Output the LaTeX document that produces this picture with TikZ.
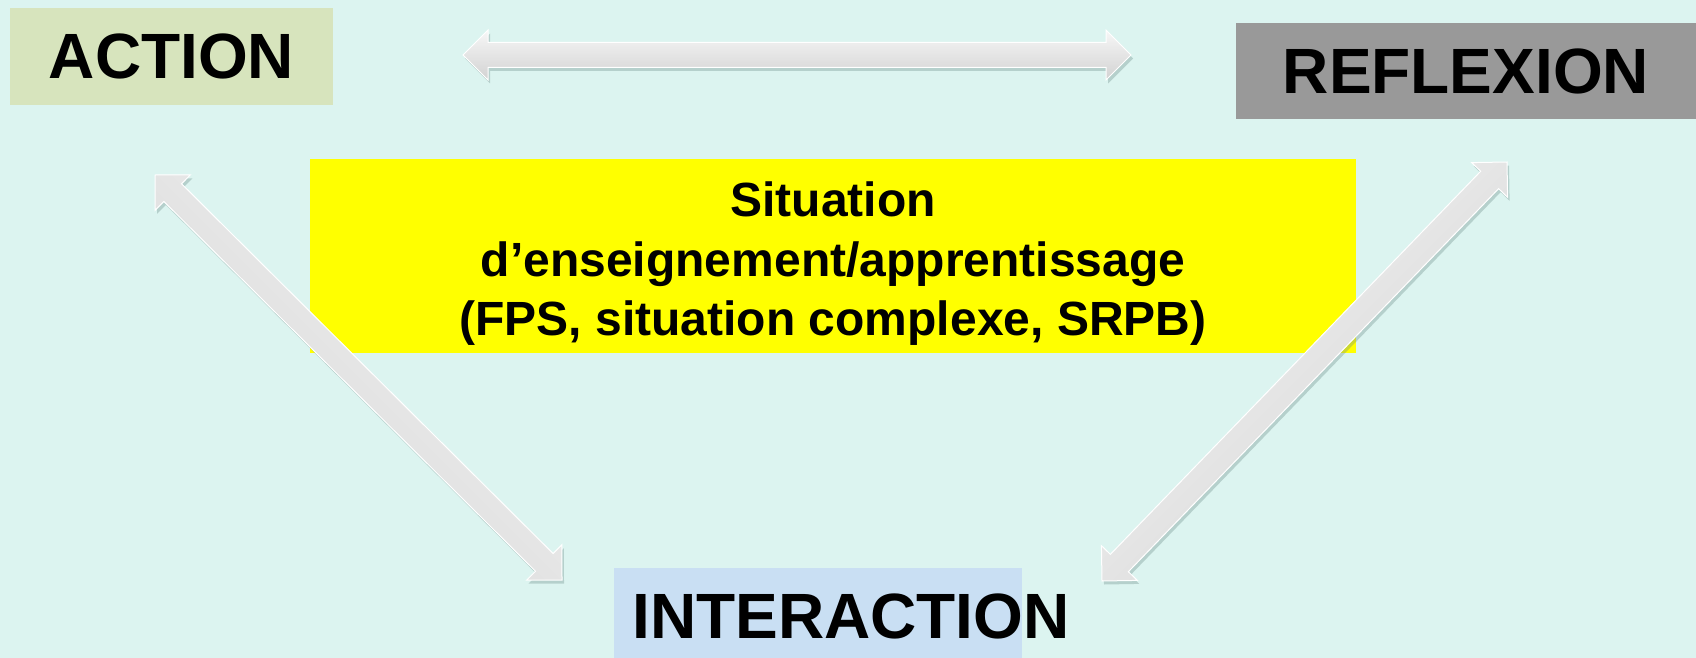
\documentclass[tikz,border=0pt]{standalone}
\usepackage{fontspec}
\setmainfont{Liberation Sans}
\usetikzlibrary{calc,shadows}
\definecolor{bgc}{HTML}{DCF4F0}
\definecolor{actc}{HTML}{D7E4BD}
\definecolor{refc}{HTML}{999999}
\definecolor{intc}{HTML}{C9DFF3}
\definecolor{arrlight}{HTML}{F7F7F7}
\definecolor{arrdark}{HTML}{D2D2D2}
\definecolor{shadc}{HTML}{6F8F8B}
\definecolor{sityellow}{RGB}{255,255,0}
\tikzset{
  lbl/.style={font=\fontsize{64}{77}\selectfont\bfseries, inner sep=0pt, text=black},
  sittext/.style={font=\fontsize{48}{59.5}\selectfont\bfseries, align=center, inner sep=0pt},
  fatarrowstyle/.style={top color=arrlight, bottom color=arrdark, draw=white, line width=1pt,
    line join=miter,
    drop shadow={shadow xshift=2pt, shadow yshift=-3.5pt, opacity=.35, fill=shadc}},
}
\newcommand\fatarrow[3]{%
  \coordinate (#1-b) at ($(#1)!25pt!(#2)$);
  \coordinate (#2-b) at ($(#2)!25pt!(#1)$);
  \path[fatarrowstyle, shading angle=#3] (#1) -- ($(#1-b)!25pt!90:(#2)$) -- ($(#1-b)!12.5pt!90:(#2)$)
    -- ($(#2-b)!12.5pt!-90:(#1)$) -- ($(#2-b)!25pt!-90:(#1)$) -- (#2)
    -- ($(#2-b)!25pt!90:(#1)$) -- ($(#2-b)!12.5pt!90:(#1)$)
    -- ($(#1-b)!12.5pt!-90:(#2)$) -- ($(#1-b)!25pt!-90:(#2)$) -- cycle;}
\begin{document}
\begin{tikzpicture}[x=1pt, y=-1pt]
  \useasboundingbox (0,0) rectangle (1696,658);
  \fill[bgc] (0,0) rectangle (1696,658);

  % boxes
  \node[fill=sityellow, minimum width=1046pt, minimum height=194pt, inner sep=0pt] (sit) at (833,256) {};
  \node[lbl, fill=actc, minimum width=323pt, minimum height=97pt] (action) at (171.5,56.5) {ACTION};
  \node[lbl, fill=refc, minimum width=460pt, minimum height=96pt] (reflexion) at (1466,71) {REFLEXION};
  \node[fill=intc, minimum width=408pt, minimum height=90pt, inner sep=0pt] (interbox) at (818,613) {};
  \node[lbl] (interaction) at (851,616.5) {INTERACTION};

  % arrow ends
  \coordinate (ar1) at (463,55);
  \coordinate (ar2) at (1131,55);
  \coordinate (ai1) at (155,175);
  \coordinate (ai2) at (562,580);
  \coordinate (ri1) at (1507,162);
  \coordinate (ri2) at (1102,581);
  \fatarrow{ar1}{ar2}{0}
  \fatarrow{ai1}{ai2}{-45}
  \fatarrow{ri1}{ri2}{45}

  \node[sittext] (sittxt) at (833,264) {Situation\\d’enseignement/apprentissage\\(FPS, situation complexe, SRPB)};
\end{tikzpicture}
\end{document}
